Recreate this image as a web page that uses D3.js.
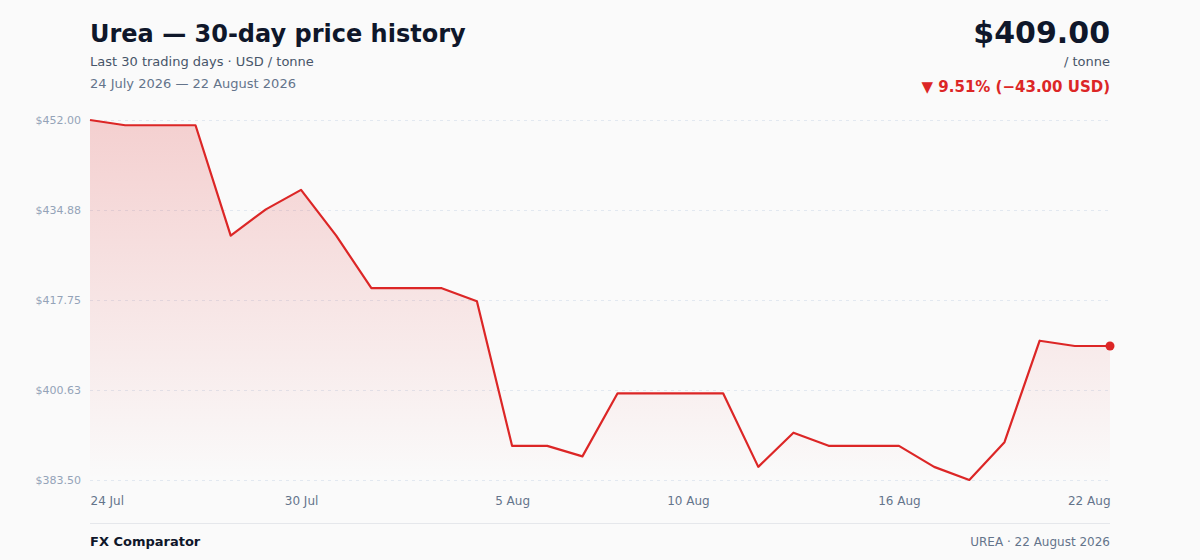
<!DOCTYPE html>
<html><head><meta charset="utf-8">
<script src="https://cdn.jsdelivr.net/npm/d3@7"></script>
<style>
html,body{margin:0;padding:0;background:#fafafa;}
svg{display:block;font-family:"DejaVu Sans",sans-serif;}
</style></head>
<body>
<svg id="c" width="1200" height="560"></svg>
<script>
const dates = ["2026-07-24","2026-07-25","2026-07-26","2026-07-27","2026-07-28","2026-07-29","2026-07-30","2026-07-31","2026-08-01","2026-08-02","2026-08-03","2026-08-04","2026-08-05","2026-08-06","2026-08-07","2026-08-08","2026-08-09","2026-08-10","2026-08-11","2026-08-12","2026-08-13","2026-08-14","2026-08-15","2026-08-16","2026-08-17","2026-08-18","2026-08-19","2026-08-20","2026-08-21","2026-08-22"];
const prices = [452, 451, 451, 451, 430, 435, 438.7, 430, 420, 420, 420, 417.5, 390, 390, 388, 400, 400, 400, 400, 386, 392.5, 390, 390, 390, 386, 383.5, 390.7, 410, 409, 409];
const xTickIdx = [0, 6, 12, 17, 23, 29];
const yTicks = [383.5, 400.625, 417.75, 434.875, 452];

const svg = d3.select("#c");
const L = 90, R = 1110, T = 120, B = 480;
const parse = d3.timeParse("%Y-%m-%d");
const data = dates.map((d, i) => ({date: parse(d), v: prices[i]}));

const x = d3.scaleTime().domain(d3.extent(data, d => d.date)).range([L, R]);
const y = d3.scaleLinear().domain([d3.min(prices), d3.max(prices)]).range([B, T]);

const red = "#dc2626";

// header
svg.append("text").attr("x", 90).attr("y", 42).attr("font-size", 24).attr("font-weight", "bold").attr("fill", "#0f172a").text("Urea — 30-day price history");
svg.append("text").attr("x", 90).attr("y", 66).attr("font-size", 13).attr("fill", "#475569").text("Last 30 trading days · USD / tonne");
svg.append("text").attr("x", 90).attr("y", 88).attr("font-size", 13).attr("fill", "#64748b").text("24 July 2026 — 22 August 2026");

const last = prices[prices.length - 1], first = prices[0];
const diff = last - first, pct = diff / first * 100;
svg.append("text").attr("x", 1110).attr("y", 43).attr("text-anchor", "end").attr("font-size", 30).attr("font-weight", "bold").attr("fill", "#0f172a").text("$" + last.toFixed(2));
svg.append("text").attr("x", 1110).attr("y", 66).attr("text-anchor", "end").attr("font-size", 13).attr("fill", "#475569").text("/ tonne");
svg.append("text").attr("x", 1110).attr("y", 92).attr("text-anchor", "end").attr("font-size", 15).attr("font-weight", "bold").attr("fill", red)
  .text("▼ " + Math.abs(pct).toFixed(2) + "% (−" + Math.abs(diff).toFixed(2) + " USD)");

// gradient
const defs = svg.append("defs");
const g = defs.append("linearGradient").attr("id", "ag").attr("gradientUnits", "userSpaceOnUse")
  .attr("x1", 0).attr("y1", T).attr("x2", 0).attr("y2", B);
g.append("stop").attr("offset", "0%").attr("stop-color", red).attr("stop-opacity", 0.2);
g.append("stop").attr("offset", "100%").attr("stop-color", red).attr("stop-opacity", 0.0);

// grid
const yAxis = d3.axisLeft(y).tickValues(yTicks).tickSize(-(R - L)).tickFormat(d => "$" + d.toFixed(2));
const ga = svg.append("g").attr("transform", `translate(${L},0)`).call(yAxis);
ga.select(".domain").remove();
ga.selectAll(".tick line").attr("stroke", "#e2e8f0").attr("stroke-dasharray", "3,4").attr("stroke-width", 1);
ga.selectAll(".tick text").attr("x", -9).attr("font-size", 11).attr("fill", "#94a3b8").attr("font-family", "DejaVu Sans");

// area + line
svg.append("path").datum(data).attr("fill", "url(#ag)")
  .attr("d", d3.area().x(d => x(d.date)).y0(B).y1(d => y(d.v)));
svg.append("path").datum(data).attr("fill", "none").attr("stroke", red).attr("stroke-width", 2.2).attr("stroke-linejoin", "round")
  .attr("d", d3.line().x(d => x(d.date)).y(d => y(d.v)));
svg.append("circle").attr("cx", x(data[data.length - 1].date)).attr("cy", y(last)).attr("r", 4.5).attr("fill", red);

// x axis
const fmt = d3.timeFormat("%-d %b");
const xAxis = d3.axisBottom(x).tickValues(xTickIdx.map(i => data[i].date)).tickSize(0).tickFormat(fmt);
const gx = svg.append("g").attr("transform", `translate(0,${B})`).call(xAxis);
gx.select(".domain").remove();
gx.selectAll(".tick text").attr("dy", 0).attr("y", 25).attr("font-size", 12).attr("fill", "#64748b").attr("font-family", "DejaVu Sans")
  .attr("text-anchor", (d, i) => i === 0 ? "start" : (i === xTickIdx.length - 1 ? "end" : "middle"));

// footer
svg.append("line").attr("x1", L).attr("x2", R).attr("y1", 523.5).attr("y2", 523.5).attr("stroke", "#e5e7eb").attr("stroke-width", 1);
svg.append("text").attr("x", 90).attr("y", 546).attr("font-size", 13).attr("font-weight", "bold").attr("fill", "#0f172a").text("FX Comparator");
svg.append("text").attr("x", 1110).attr("y", 546).attr("text-anchor", "end").attr("font-size", 12).attr("fill", "#64748b").text("UREA · 22 August 2026");
</script>
</body></html>
